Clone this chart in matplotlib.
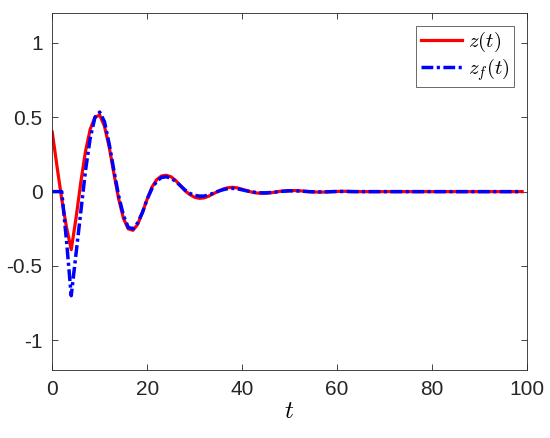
import matplotlib.pyplot as plt

# sample times (tail is flat at zero)
t = [0, 1, 2, 3, 4, 5, 6, 7, 8, 9,
     10, 11, 12, 13, 14, 15, 16, 17, 18, 19,
     20, 21, 22, 23, 24, 25, 26, 27, 28, 29,
     30, 31, 32, 33, 34, 35, 36, 37, 38, 39,
     40, 41, 42, 43, 44, 45, 46, 47, 48, 49,
     50, 51, 52, 53, 54, 55, 56, 57, 58, 59,
     60, 61, 62, 63, 64, 70, 80, 90, 99]

# z(t)
z = [0.40, 0.17, -0.05, -0.24, -0.39, -0.18, 0.06, 0.27, 0.42, 0.50,
     0.515, 0.44, 0.30, 0.12, -0.05, -0.18, -0.25, -0.26, -0.22, -0.14,
     -0.05, 0.03, 0.08, 0.105, 0.11, 0.10, 0.075, 0.04, 0.005, -0.02,
     -0.038, -0.045, -0.042, -0.03, -0.013, 0.003, 0.017, 0.026, 0.029, 0.025,
     0.016, 0.006, -0.003, -0.009, -0.011, -0.011, -0.008, -0.003, 0.002, 0.005,
     0.007, 0.007, 0.006, 0.003, 0.0, -0.002, -0.003, -0.003, -0.002, 0.0,
     0.001, 0.002, 0.002, 0.001, 0.0, 0.0, 0.0, 0.0, 0.0]

# z_f(t)
zf = [0.0, 0.0, 0.0, -0.33, -0.70, -0.42, -0.14, 0.14, 0.36, 0.50,
      0.535, 0.47, 0.32, 0.14, -0.03, -0.16, -0.24, -0.25, -0.21, -0.14,
      -0.05, 0.02, 0.07, 0.095, 0.10, 0.09, 0.07, 0.04, 0.01, -0.012,
      -0.025, -0.03, -0.03, -0.022, -0.01, 0.003, 0.013, 0.02, 0.022, 0.019,
      0.012, 0.005, -0.001, -0.006, -0.008, -0.008, -0.006, -0.003, 0.001, 0.003,
      0.005, 0.005, 0.004, 0.002, 0.0, -0.001, -0.002, -0.002, -0.001, 0.0,
      0.001, 0.001, 0.001, 0.0, 0.0, 0.0, 0.0, 0.0, 0.0]

xticks = [0, 20, 40, 60, 80, 100]
yticks = [-1, -0.5, 0, 0.5, 1]
ytick_labels = ['-1', '-0.5', '0', '0.5', '1']

plt.rcParams['font.family'] = ['Liberation Sans', 'DejaVu Sans']
plt.rcParams['mathtext.fontset'] = 'cm'

fig = plt.figure(figsize=(5.5, 4.38), dpi=100)
ax = fig.add_axes([0.095, 0.155, 0.863, 0.815])

ax.plot(t, z, color='red', lw=2.3, label='$z(t)$')
ax.plot(t, zf, color='blue', lw=2.5, linestyle=(0, (3.4, 1.0, 0.9, 1.0)),
        label='$z_f(t)$')

ax.set_xlim(0, 100)
ax.set_ylim(-1.2, 1.2)
ax.set_xticks(xticks)
ax.set_yticks(yticks)
ax.set_yticklabels(ytick_labels)
ax.tick_params(direction='in', top=True, right=True, labelsize=15,
               colors='#262626', length=4, width=0.6, pad=7)
for sp in ax.spines.values():
    sp.set_color('#262626')
    sp.set_linewidth(0.6)

ax.set_xlabel('$t$', fontsize=18, labelpad=0)

leg = ax.legend(loc='upper right', fontsize=15, frameon=True, fancybox=False,
                handlelength=2.0, borderpad=0.2, labelspacing=0.1,
                handletextpad=0.3, borderaxespad=0.6)
leg.get_frame().set_edgecolor('#262626')
leg.get_frame().set_linewidth(0.6)

fig.savefig('out.png', dpi=100)
